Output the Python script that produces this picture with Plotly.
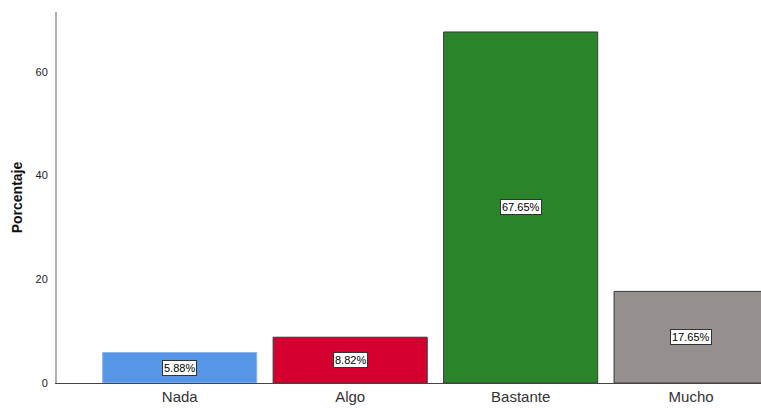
import plotly.graph_objects as go

categories = ["Nada", "Algo", "Bastante", "Mucho"]
values = [5.88, 8.82, 67.65, 17.65]
labels = ["5.88%", "8.82%", "67.65%", "17.65%"]
colors = ["#5596E6", "#D6002F", "#29842A", "#958F8E"]
line_colors = ["#8DB6EE", "#3a3a3a", "#3a3a3a", "#3a3a3a"]

fig = go.Figure()
fig.add_trace(go.Bar(
    x=categories, y=values,
    marker=dict(color=colors, line=dict(color=line_colors, width=1)),
    hoverinfo="skip",
))

for c, v, t in zip(categories, values, labels):
    fig.add_annotation(
        x=c, y=v / 2, text=t, showarrow=False,
        font=dict(family="Liberation Sans, Arial", size=11, color="#000"),
        bgcolor="white", bordercolor="#333", borderwidth=1, borderpad=1,
    )

fig.update_layout(
    width=761, height=408,
    margin=dict(l=57, r=0, t=12, b=25),
    paper_bgcolor="white", plot_bgcolor="white",
    bargap=0.096, showlegend=False,
    font=dict(family="Liberation Sans, Arial", color="#222"),
)
fig.update_xaxes(
    range=[-0.72, 3.41], showgrid=False,
    showline=True, linecolor="#444", linewidth=1,
    ticks="", tickfont=dict(size=15, color="#333"),
)
fig.update_yaxes(
    range=[0, 71.5], tickvals=[0, 20, 40, 60], showgrid=False, zeroline=False,
    showline=True, linecolor="#B0B0B0", linewidth=2,
    ticks="", ticklabelstandoff=5, tickfont=dict(size=11, color="#222"),
    title=dict(text="<b>Porcentaje</b>", font=dict(size=14, color="#111"), standoff=10),
)

# remove the default page margin so the figure fills the window exactly
post = ("document.body.style.margin='0';"
        "document.body.style.overflow='hidden';"
        "document.documentElement.style.overflow='hidden';")
fig.write_html("out.html", post_script=post, config={"displayModeBar": False})
